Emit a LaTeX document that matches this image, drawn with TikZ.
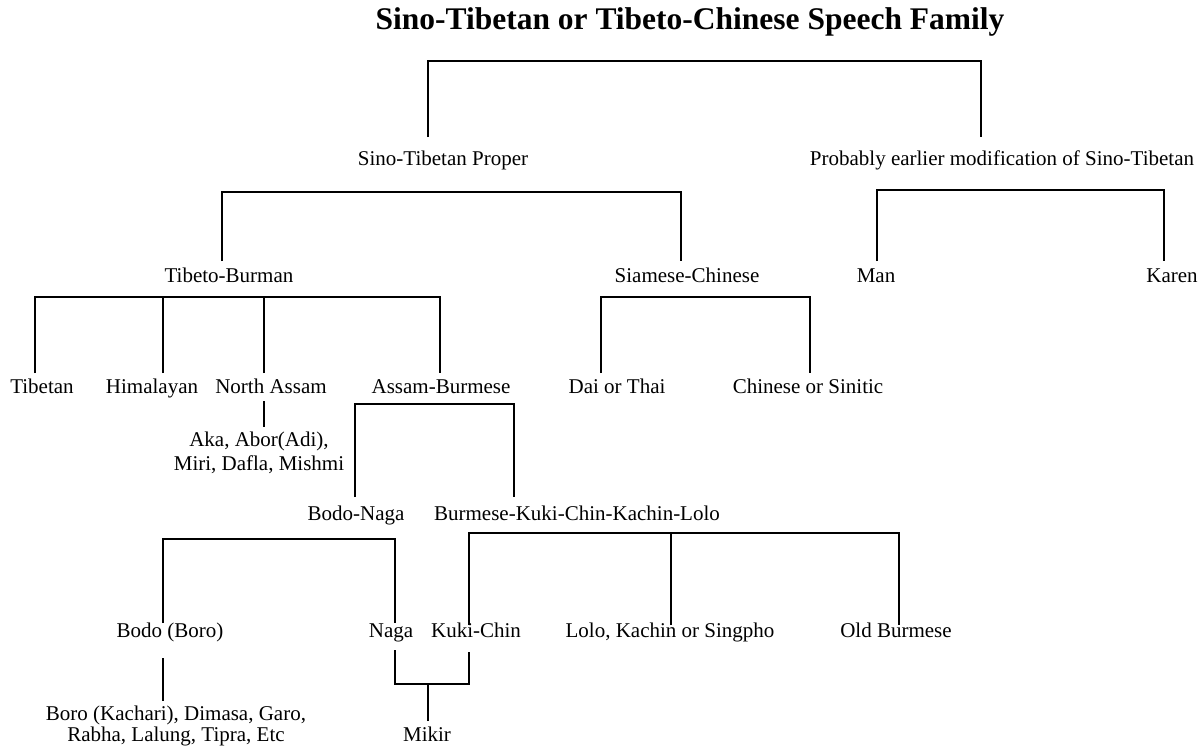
\documentclass[tikz,border=0pt]{standalone}
\usepackage{fontspec}
\setmainfont{Liberation Serif}
\newcommand\lbf{\fontsize{21}{24}\selectfont}
\newcommand\ttlf{\fontsize{31.5}{34}\selectfont\bfseries}
\begin{document}
\begin{tikzpicture}[x=1pt,y=-1pt,
  lbl/.style={inner sep=0pt, anchor=base, font=\lbf},
  conn/.style={line width=1.5pt, line join=miter}]
\useasboundingbox (0,0) rectangle (1201,745);
% ---------- labels ----------
\node[lbl, font=\ttlf] (title) at (690,29) {Sino-Tibetan or Tibeto-Chinese Speech Family};
\node[lbl] (stp)   at (443,165) {Sino-Tibetan Proper};
\node[lbl] (prob)  at (1002,165) {Probably earlier modification of Sino-Tibetan};
\node[lbl] (tb)    at (229,282) {Tibeto-Burman};
\node[lbl] (sc)    at (687,282) {Siamese-Chinese};
\node[lbl] (man)   at (876,282) {Man};
\node[lbl] (karen) at (1172,282) {Karen};
\node[lbl] (tibetan) at (42,393) {Tibetan};
\node[lbl] (himal) at (152,393) {Himalayan};
\node[lbl] (nassam) at (271,393) {North Assam};
\node[lbl] (ab)    at (441,393) {Assam-Burmese};
\node[lbl] (dai)   at (617,393) {Dai or Thai};
\node[lbl] (chin)  at (808,393) {Chinese or Sinitic};
\node[lbl] (aka)   at (259,446) {\begin{tabular}[t]{@{}c@{}}Aka, Abor(Adi),\\Miri, Dafla, Mishmi\end{tabular}};
\node[lbl] (bn)    at (356,520) {Bodo-Naga};
\node[lbl] (bkckl) at (577,520) {Burmese-Kuki-Chin-Kachin-Lolo};
\node[lbl] (bodo)  at (170,637) {Bodo (Boro)};
\node[lbl] (naga)  at (391,637) {Naga};
\node[lbl] (kuki)  at (476,637) {Kuki-Chin};
\node[lbl] (lolo)  at (670,637) {Lolo, Kachin or Singpho};
\node[lbl] (oldb)  at (896,637) {Old Burmese};
\node[lbl] (boro)  at (176,720) {\fontsize{21}{21}\selectfont\begin{tabular}[t]{@{}c@{}}Boro (Kachari), Dimasa, Garo,\\Rabha, Lalung, Tipra, Etc\end{tabular}};
\node[lbl] (mikir) at (427,741) {Mikir};
% ---------- connector end points ----------
\coordinate (b1L) at (428,61);  \coordinate (b1R) at (981,61);
\coordinate (stpT) at (428,137); \coordinate (probT) at (981,137);
\coordinate (b2L) at (222,192); \coordinate (b2R) at (681,192);
\coordinate (tbT) at (222,261); \coordinate (scT) at (681,261);
\coordinate (b2pL) at (877,190); \coordinate (b2pR) at (1164,190);
\coordinate (manT) at (877,261); \coordinate (karenT) at (1164,261);
\coordinate (b3L) at (35,297); \coordinate (b3R) at (440,297);
\coordinate (tibT) at (35,373); \coordinate (himT) at (163,373);
\coordinate (naT) at (264,373); \coordinate (abT) at (440,373);
\coordinate (b4L) at (601,297); \coordinate (b4R) at (810,297);
\coordinate (daiT) at (601,373); \coordinate (chinT) at (810,373);
\coordinate (naB) at (264,401); \coordinate (akaT) at (264,427);
\coordinate (b5L) at (355,404); \coordinate (b5R) at (514,404);
\coordinate (bnT) at (355,497); \coordinate (bkT) at (514,497);
\coordinate (b6L) at (163,539); \coordinate (b6R) at (395,539);
\coordinate (bodoT) at (163,623); \coordinate (nagaT) at (395,623);
\coordinate (b7L) at (469,533); \coordinate (b7R) at (899,533);
\coordinate (kukiT) at (469,625); \coordinate (loloT) at (671,625); \coordinate (oldT) at (899,625);
\coordinate (bodoB) at (163,658); \coordinate (boroT) at (163,701);
\coordinate (nagaB) at (395,650); \coordinate (kukiB) at (469,652);
\coordinate (j1) at (395,684); \coordinate (j2) at (469,684);
\coordinate (mikT) at (428,721);
% ---------- connectors ----------
\draw[conn] (stpT) -- (b1L) -- (b1R) -- (probT);
\draw[conn] (tbT) -- (b2L) -- (b2R) -- (scT);
\draw[conn] (manT) -- (b2pL) -- (b2pR) -- (karenT);
\draw[conn] (tibT) -- (b3L) -- (b3R) -- (abT);
\draw[conn] (himT) -- (himT |- b3L);
\draw[conn] (naT) -- (naT |- b3L);
\draw[conn] (daiT) -- (b4L) -- (b4R) -- (chinT);
\draw[conn] (naB) -- (akaT);
\draw[conn] (bnT) -- (b5L) -- (b5R) -- (bkT);
\draw[conn] (bodoT) -- (b6L) -- (b6R) -- (nagaT);
\draw[conn] (kukiT) -- (b7L) -- (b7R) -- (oldT);
\draw[conn] (loloT) -- (loloT |- b7L);
\draw[conn] (bodoB) -- (boroT);
\draw[conn] (nagaB) -- (j1) -- (j2) -- (kukiB);
\draw[conn] (mikT) -- (mikT |- j1);
\end{tikzpicture}
\end{document}
